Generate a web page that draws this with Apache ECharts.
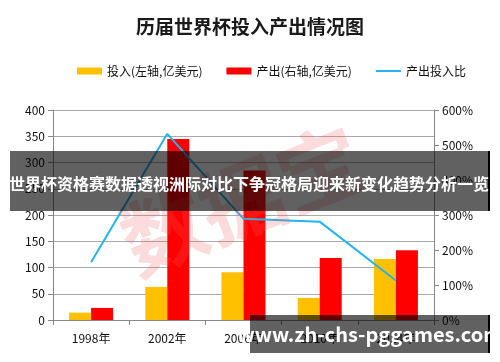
<!DOCTYPE html>
<html><head><meta charset="utf-8">
<script src="https://cdn.jsdelivr.net/npm/echarts@6/dist/echarts.min.js"></script>
<style>html,body{margin:0;padding:0;background:#fff}#c{width:500px;height:362px}</style>
</head><body><div id="c"></div>
<script>
const categories = ['1998年','2002年','2006年','2010年','2014年'];
const investment = [14, 63, 91, 42, 116];
const output = [23, 345, 285, 118, 133];
const ratio = [165, 532, 289, 281, 113];
const leftTicks = [0, 400, 50];
const rightTicks = [0, 600, 100];
const title = '历届世界杯投入产出情况图';
const seriesNames = ['投入(左轴,亿美元)', '产出(右轴,亿美元)', '产出投入比'];
const bannerText = '世界杯资格赛数据透视洲际对比下争冠格局迎来新变化趋势分析一览';
const siteText = 'www.zh-chs-pggames.com';
const stampText = '数据宝';

const font = '"Noto Sans CJK SC", "DejaVu Sans", sans-serif';
const chart = echarts.init(document.getElementById('c'), null, {renderer: 'canvas'});
chart.setOption({
  animation: false,
  textStyle: {fontFamily: font},
  title: {text: title, left: 'center', top: 12, textStyle: {fontSize: 19, fontWeight: 'bold', color: '#1a1a1a', fontFamily: font}},
  legend: {
    top: 60, left: 72, itemGap: 24, itemWidth: 25, itemHeight: 7,
    textStyle: {fontSize: 12, color: '#111'},
    data: [
      {name: seriesNames[0], icon: 'rect'},
      {name: seriesNames[1], icon: 'rect'},
      {name: seriesNames[2], icon: 'path://M0,0 L25,0 L25,2 L0,2 Z'}
    ]
  },
  grid: {left: 53, right: 66, top: 110, bottom: 42},
  xAxis: {
    type: 'category', data: categories,
    axisLine: {lineStyle: {color: '#888'}},
    axisTick: {show: true, length: 5, lineStyle: {color: '#888'}},
    axisLabel: {fontSize: 12, color: '#111', margin: 12}
  },
  yAxis: [
    {type: 'value', min: leftTicks[0], max: leftTicks[1], interval: leftTicks[2],
     axisLine: {show: true, lineStyle: {color: '#888'}},
     axisTick: {show: true, length: 5, lineStyle: {color: '#888'}},
     axisLabel: {fontSize: 12, color: '#111', margin: 8},
     splitLine: {lineStyle: {color: '#aaa'}}},
    {type: 'value', min: rightTicks[0], max: rightTicks[1], interval: rightTicks[2],
     axisLine: {show: true, lineStyle: {color: '#888'}},
     axisTick: {show: true, length: 5, lineStyle: {color: '#888'}},
     axisLabel: {fontSize: 12, color: '#111', margin: 8, formatter: '{value}%'},
     splitLine: {show: false}}
  ],
  series: [
    {name: seriesNames[0], type: 'bar', data: investment, barWidth: 22, barGap: '0%', itemStyle: {color: '#FFC000'}},
    {name: seriesNames[1], type: 'bar', data: output, barWidth: 22, itemStyle: {color: '#FF0000'}},
    {name: seriesNames[2], type: 'line', yAxisIndex: 1, data: ratio, showSymbol: false, symbol: 'none',
     lineStyle: {color: '#22B4EE', width: 2}, itemStyle: {color: '#22B4EE'}}
  ],
  graphic: [
    {type: 'text', z: 50, rotation: 0.38, position: [242, 200],
     style: {text: stampText, font: 'bold 84px ' + font, fill: 'rgba(235,90,90,0.22)', textAlign: 'center', textVerticalAlign: 'middle'}},
    {type: 'rect', z: 100, shape: {x: 10, y: 151, width: 478, height: 60}, style: {fill: 'rgba(0,0,0,0.62)'}},
    {type: 'rect', z: 100, shape: {x: 488, y: 151, width: 2, height: 60}, style: {fill: '#000'}},
    {type: 'text', z: 101, style: {text: bannerText, x: 249, y: 184, font: 'bold 16px ' + font, fill: '#fff', textAlign: 'center', textVerticalAlign: 'middle'}},
    {type: 'rect', z: 100, shape: {x: 250, y: 315, width: 238, height: 38}, style: {fill: 'rgba(0,0,0,0.62)'}},
    {type: 'rect', z: 100, shape: {x: 488, y: 315, width: 2, height: 38}, style: {fill: '#000'}},
    {type: 'text', z: 101, style: {text: siteText, x: 370, y: 334, font: 'bold 20px ' + font, fill: '#fff', textAlign: 'center', textVerticalAlign: 'middle'}}
  ]
});
</script></body></html>
